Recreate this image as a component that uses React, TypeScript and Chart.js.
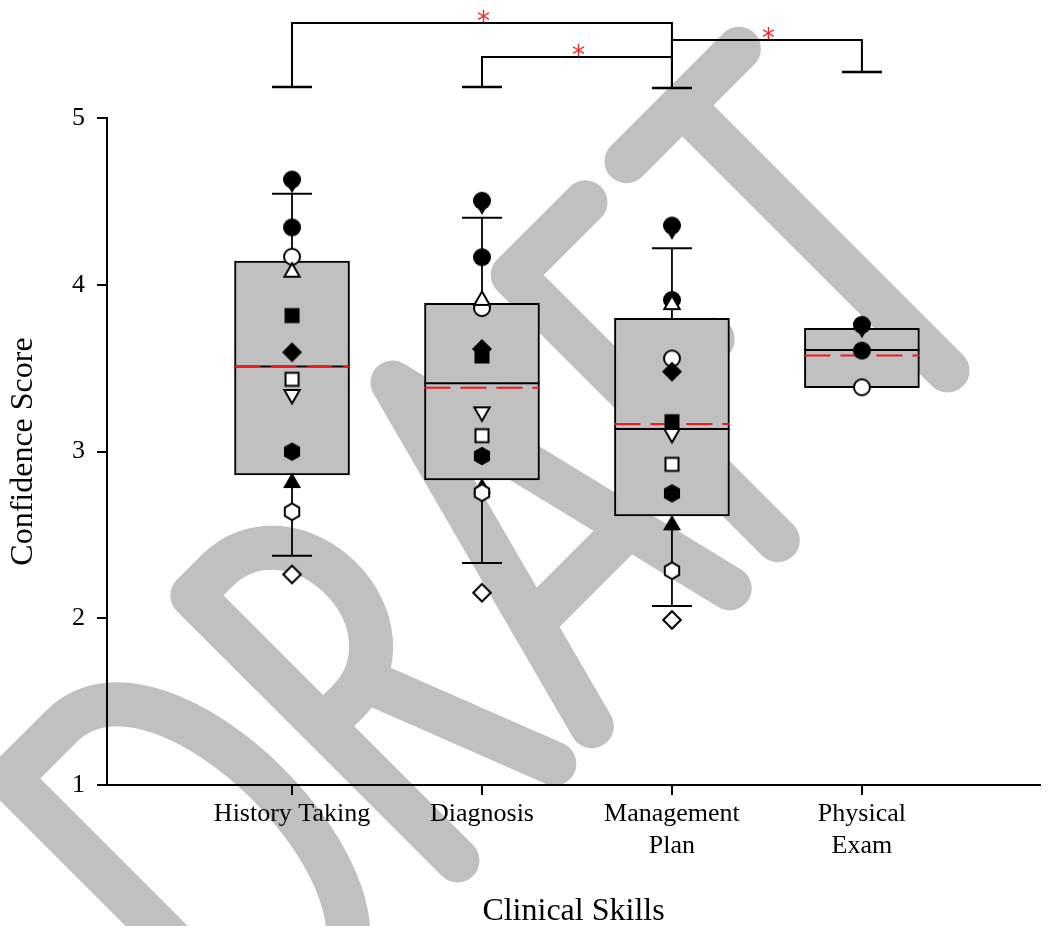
import React, { useEffect, useRef } from 'react';
import { Chart, registerables } from 'chart.js';

Chart.register(...registerables);

// ---------- data ----------
const categoryLabels: string[][] = [['History Taking'], ['Diagnosis'], ['Management', 'Plan'], ['Physical', 'Exam']];
const categoryPositions = [1, 2, 3, 4];
const yTicks = [1, 2, 3, 4, 5];

const boxLow = [2.859, 2.829, 2.613, 3.383];
const boxHigh = [4.142, 3.888, 3.798, 3.739];
const medians = [3.51, 3.409, 3.135, 3.609];
const means = [3.51, 3.383, 3.165, 3.575];
const whiskerLow: (number | null)[] = [2.375, 2.331, 2.073, null];
const whiskerHigh: (number | null)[] = [4.546, 4.402, 4.219, null];

// individual scores (History Taking, Diagnosis, Management Plan, Physical Exam)
const filledCircleA: (number | null)[] = [4.631, 4.504, 4.355, 3.76];
const filledTriDown: (number | null)[] = [4.60, 4.47, 4.32, 3.73];
const filledCircleB: (number | null)[] = [4.344, 4.165, 3.909, 3.605];
const openCircle: (number | null)[] = [4.168, 3.86, 3.558, 3.385];
const openTriUp: (number | null)[] = [4.084, 3.915, 3.89, null];
const filledSquare: (number | null)[] = [3.815, 3.573, 3.179, null];
const filledDiamond: (number | null)[] = [3.595, 3.615, 3.479, null];
const openSquare: (number | null)[] = [3.433, 3.095, 2.923, null];
const openTriDown: (number | null)[] = [3.333, 3.229, 3.099, null];
const filledHexagon: (number | null)[] = [2.999, 2.973, 2.749, null];
const filledTriUp: (number | null)[] = [2.823, 2.79, 2.569, null];
const openHexagon: (number | null)[] = [2.639, 2.753, 2.285, null];
const openDiamond: (number | null)[] = [2.263, 2.153, 1.99, null];

// significance brackets
const bracketFrom = [1, 2, 3];
const bracketTo = [3, 3, 4];
const bracketTop = [5.57, 5.366, 5.468];
const bracketFoot = [5.186, 5.186, 5.18, 5.276];
const bracketMarks = ['*', '*', '*'];

const xMin = 0.026;
const xMax = 4.9375;

const FONT = '"Liberation Serif", "Times New Roman", serif';

// ---------- markers ----------
function makeMarker(shape: string, filled: boolean): HTMLCanvasElement {
  const c = document.createElement('canvas');
  c.width = 28;
  c.height = 28;
  const ctx = c.getContext('2d')!;
  ctx.translate(14, 14);
  const k = filled ? 0 : 1;
  ctx.beginPath();
  if (shape === 'circle') {
    ctx.arc(0, 0, 9 - k, 0, Math.PI * 2);
  } else if (shape === 'triUp' || shape === 'triDown') {
    const s = shape === 'triUp' ? 1 : -1;
    const h = 8.5 - k, w = 9 - k * 1.3;
    ctx.moveTo(0, -h * s);
    ctx.lineTo(w, (7 - k) * s);
    ctx.lineTo(-w, (7 - k) * s);
  } else if (shape === 'square') {
    const h = 7.5 - k;
    ctx.rect(-h, -h, 2 * h, 2 * h);
  } else if (shape === 'diamond') {
    const h = 10 - k * 1.2;
    ctx.moveTo(0, -h);
    ctx.lineTo(h, 0);
    ctx.lineTo(0, h);
    ctx.lineTo(-h, 0);
  } else if (shape === 'hexagon') {
    const r = 9.3 - k;
    for (let i = 0; i < 6; i++) {
      const a = -Math.PI / 2 + (i * Math.PI) / 3;
      const px = r * Math.cos(a), py = r * Math.sin(a);
      if (i === 0) ctx.moveTo(px, py); else ctx.lineTo(px, py);
    }
  }
  ctx.closePath();
  if (filled) {
    ctx.fillStyle = '#000';
    ctx.fill();
  } else {
    ctx.fillStyle = '#fff';
    ctx.fill();
    ctx.lineWidth = 2;
    ctx.strokeStyle = '#000';
    ctx.stroke();
  }
  return c;
}

const markerSeries: { shape: string; filled: boolean; values: (number | null)[] }[] = [
  { shape: 'circle', filled: true, values: filledCircleA },
  { shape: 'triDown', filled: true, values: filledTriDown },
  { shape: 'circle', filled: true, values: filledCircleB },
  { shape: 'circle', filled: false, values: openCircle },
  { shape: 'triUp', filled: false, values: openTriUp },
  { shape: 'square', filled: true, values: filledSquare },
  { shape: 'diamond', filled: true, values: filledDiamond },
  { shape: 'square', filled: false, values: openSquare },
  { shape: 'triDown', filled: false, values: openTriDown },
  { shape: 'hexagon', filled: true, values: filledHexagon },
  { shape: 'triUp', filled: true, values: filledTriUp },
  { shape: 'hexagon', filled: false, values: openHexagon },
  { shape: 'diamond', filled: false, values: openDiamond },
];

// ---------- watermark (decoration) ----------
const watermarkLetters = [
  'M -544 932 L -544 557 L -470 557 C -400 557 -365 650 -365 744 C -365 838 -400 932 -470 932 Z',
  'M -285 932 L -285 557 L -250 557 C -200 557 -168 600 -168 650 C -168 700 -200 742 -250 742 L -285 742 M -222 742 L -148 932',
  'M -95 932 L 7 548 L 100 932 M -64 817 L 72 817',
  'M 271 557 L 168 557 L 168 932 M 168 744 L 264 744',
  'M 329 557 L 488 557 M 408 557 L 408 932',
];

const watermarkPlugin = {
  id: 'watermark',
  beforeDraw(chart: any) {
    const ctx = chart.ctx as CanvasRenderingContext2D;
    ctx.save();
    ctx.fillStyle = '#fff';
    ctx.fillRect(0, 0, chart.width, chart.height);
    ctx.rotate(-Math.PI / 4);
    ctx.strokeStyle = '#c0c0c0';
    ctx.lineWidth = 44;
    ctx.lineCap = 'round';
    ctx.lineJoin = 'round';
    for (const d of watermarkLetters) ctx.stroke(new Path2D(d));
    ctx.restore();
  },
};

const boxExtrasPlugin = {
  id: 'boxExtras',
  afterDatasetDraw(chart: any, args: any) {
    if (args.index !== 0) return;
    const ctx = chart.ctx as CanvasRenderingContext2D;
    const xs = chart.scales.x, ys = chart.scales.y;
    const half = 57.5;
    ctx.save();
    categoryPositions.forEach((c, i) => {
      const px = xs.getPixelForValue(c);
      ctx.strokeStyle = '#000';
      ctx.setLineDash([]);
      const wl = whiskerLow[i], wh = whiskerHigh[i];
      if (wh != null) {
        ctx.lineWidth = 1.8;
        ctx.beginPath();
        ctx.moveTo(px, ys.getPixelForValue(boxHigh[i]));
        ctx.lineTo(px, ys.getPixelForValue(wh));
        ctx.stroke();
        ctx.lineWidth = 2;
        ctx.beginPath();
        ctx.moveTo(px - 20, ys.getPixelForValue(wh));
        ctx.lineTo(px + 20, ys.getPixelForValue(wh));
        ctx.stroke();
      }
      if (wl != null) {
        ctx.lineWidth = 1.8;
        ctx.beginPath();
        ctx.moveTo(px, ys.getPixelForValue(boxLow[i]));
        ctx.lineTo(px, ys.getPixelForValue(wl));
        ctx.stroke();
        ctx.lineWidth = 2;
        ctx.beginPath();
        ctx.moveTo(px - 20, ys.getPixelForValue(wl));
        ctx.lineTo(px + 20, ys.getPixelForValue(wl));
        ctx.stroke();
      }
      // median
      ctx.lineWidth = 2;
      ctx.beginPath();
      const my = ys.getPixelForValue(medians[i]);
      ctx.moveTo(px - half, my);
      ctx.lineTo(px + half, my);
      ctx.stroke();
      // mean
      ctx.strokeStyle = 'rgb(238,28,28)';
      ctx.setLineDash([26, 10]);
      ctx.beginPath();
      const ay = ys.getPixelForValue(means[i]);
      ctx.moveTo(px - half, ay);
      ctx.lineTo(px + half, ay);
      ctx.stroke();
    });
    ctx.restore();
  },
};

const bracketPlugin = {
  id: 'brackets',
  afterDraw(chart: any) {
    const ctx = chart.ctx as CanvasRenderingContext2D;
    const xs = chart.scales.x, ys = chart.scales.y;
    ctx.save();
    ctx.strokeStyle = '#000';
    ctx.lineCap = 'butt';
    bracketFrom.forEach((f, i) => {
      const t = bracketTo[i];
      const x1 = xs.getPixelForValue(f), x2 = xs.getPixelForValue(t);
      const yt = ys.getPixelForValue(bracketTop[i]);
      const yf1 = ys.getPixelForValue(bracketFoot[f - 1]);
      const yf2 = ys.getPixelForValue(bracketFoot[t - 1]);
      ctx.lineWidth = 2;
      ctx.beginPath();
      ctx.moveTo(x1, yf1);
      ctx.lineTo(x1, yt);
      ctx.lineTo(x2, yt);
      ctx.lineTo(x2, yf2);
      ctx.stroke();
      ctx.fillStyle = 'rgb(238,40,40)';
      ctx.font = '26px "DejaVu Sans"';
      ctx.textAlign = 'center';
      ctx.textBaseline = 'alphabetic';
      const m = ctx.measureText(bracketMarks[i]);
      const glyphMid = (m.actualBoundingBoxAscent - m.actualBoundingBoxDescent) / 2;
      ctx.fillText(bracketMarks[i], (x1 + x2) / 2 + 1.5, yt - 6.5 + glyphMid);
    });
    categoryPositions.forEach((c, i) => {
      const px = xs.getPixelForValue(c);
      const yf = ys.getPixelForValue(bracketFoot[i]);
      ctx.lineWidth = 2.6;
      ctx.beginPath();
      ctx.moveTo(px - 20, yf);
      ctx.lineTo(px + 20, yf);
      ctx.stroke();
    });
    ctx.restore();
  },
};

export default function App() {
  const canvasRef = useRef<HTMLCanvasElement | null>(null);

  useEffect(() => {
    const canvas = canvasRef.current;
    if (!canvas) return;

    const datasets: any[] = [
      {
        type: 'bar',
        data: categoryPositions.map((x, i) => ({ x, y: [boxLow[i], boxHigh[i]] })),
        backgroundColor: '#c0c0c0',
        borderColor: '#000',
        borderWidth: 2,
        borderSkipped: false,
        barThickness: 115,
        order: 100,
      },
      ...markerSeries.map((m, i) => ({
        type: 'scatter',
        data: m.values
          .map((v, j) => (v == null ? null : { x: categoryPositions[j], y: v }))
          .filter((p) => p !== null),
        pointStyle: makeMarker(m.shape, m.filled),
        pointRadius: 9,
        order: 50 - i,
        clip: false,
      })),
    ];

    const chart = new Chart(canvas, {
      type: 'scatter',
      data: { datasets },
      options: {
        animation: false,
        responsive: false,
        devicePixelRatio: 1,
        events: [],
        layout: { padding: { top: 118, left: 0, right: 0, bottom: 0 } },
        plugins: { legend: { display: false }, tooltip: { enabled: false } },
        scales: {
          x: {
            type: 'linear',
            min: xMin,
            max: xMax,
            offset: false,
            grid: { offset: false, drawOnChartArea: false, drawTicks: true, tickLength: 10, color: '#000', lineWidth: 2 },
            border: { display: true, color: '#000', width: 2 },
            afterBuildTicks: (scale: any) => {
              scale.ticks = categoryPositions.map((v) => ({ value: v }));
            },
            ticks: {
              autoSkip: false,
              maxRotation: 0,
              minRotation: 0,
              padding: 3,
              color: '#000',
              font: { family: FONT, size: 26, lineHeight: 1.23 },
              callback: (value: any) => {
                const idx = categoryPositions.indexOf(Number(value));
                return idx >= 0 ? categoryLabels[idx] : '';
              },
            },
            title: {
              display: true,
              text: 'Clinical Skills',
              color: '#000',
              font: { family: FONT, size: 32, lineHeight: 1 },
              padding: { top: 0, bottom: -2 },
            },
            afterFit: (scale: any) => {
              scale.height = 141;
            },
          },
          y: {
            type: 'linear',
            min: 1,
            max: 5,
            afterBuildTicks: (scale: any) => {
              scale.ticks = yTicks.map((v) => ({ value: v }));
            },
            grid: { drawOnChartArea: false, drawTicks: true, tickLength: 10, color: '#000', lineWidth: 2 },
            border: { display: true, color: '#000', width: 2 },
            ticks: {
              padding: 12,
              color: '#000',
              font: { family: FONT, size: 26 },
            },
            title: {
              display: true,
              text: 'Confidence Score',
              color: '#000',
              font: { family: FONT, size: 32, lineHeight: 1 },
              padding: { top: 8, bottom: 0 },
            },
            afterFit: (scale: any) => {
              scale.width = 107;
            },
          },
        },
      } as any,
      plugins: [watermarkPlugin, boxExtrasPlugin, bracketPlugin],
    });

    return () => {
      chart.destroy();
    };
  }, []);

  return (
    <div style={{ position: 'fixed', left: 0, top: 0, width: 1050, height: 926, background: '#fff' }}>
      <canvas ref={canvasRef} width={1050} height={926} style={{ display: 'block' }} />
    </div>
  );
}
